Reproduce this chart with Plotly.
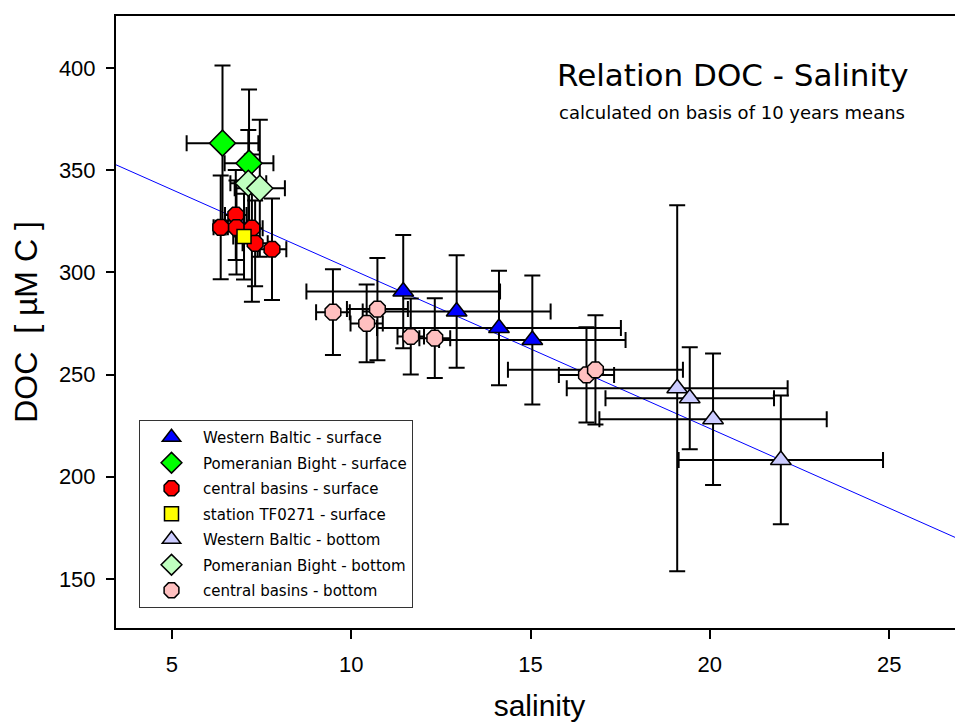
import numpy as np
import plotly.graph_objects as go

# ---- data (salinity, DOC [uM C], +/- errors) ----
wb_surf_sal = [11.45, 12.94, 14.12, 15.05]
wb_surf_doc = [290.6, 280.8, 272.8, 266.9]
wb_surf_sal_err = [2.70, 2.62, 3.40, 2.60]
wb_surf_doc_err = [27.7, 27.5, 28.0, 31.5]

pb_surf_sal = [6.41, 7.15]
pb_surf_doc = [363.2, 353.4]
pb_surf_sal_err = [1.00, 0.68]
pb_surf_doc_err = [38.0, 36.0]

cb_surf_sal = [6.78, 6.36, 6.80, 7.23, 7.32, 7.79]
cb_surf_doc = [328.0, 322.0, 321.9, 321.6, 314.2, 311.3]
cb_surf_sal_err = [0.30, 0.20, 0.30, 0.30, 0.35, 0.40]
cb_surf_doc_err = [22.0, 25.4, 23.0, 36.0, 21.0, 24.8]

tf_surf_sal = [7.01]
tf_surf_doc = [317.5]
tf_surf_sal_err = [0.30]
tf_surf_doc_err = [21.0]

wb_bot_sal = [19.09, 19.44, 20.09, 21.98]
wb_bot_doc = [243.3, 238.4, 228.1, 208.2]
wb_bot_sal_err = [3.08, 2.35, 3.17, 2.85]
wb_bot_doc_err = [89.5, 25.0, 32.2, 31.5]

pb_bot_sal = [7.13, 7.45]
pb_bot_doc = [343.6, 341.1]
pb_bot_sal_err = [0.50, 0.70]
pb_bot_doc_err = [26.0, 33.5]

cb_bot_sal = [9.49, 10.43, 10.73, 11.66, 12.33, 16.56, 16.81]
cb_bot_doc = [280.5, 275.0, 282.0, 268.6, 267.8, 249.8, 252.3]
cb_bot_sal_err = [0.47, 0.45, 0.85, 0.37, 0.43, 0.77, 2.44]
cb_bot_doc_err = [21.0, 19.0, 25.0, 18.6, 19.5, 23.3, 26.7]

# regression DOC = a + b * salinity
reg_intercept = 379.4
reg_slope = -7.79

x_range = [3.44, 27.06]
y_range = [126, 425.4]
x_ticks = [5, 10, 15, 20, 25]
y_ticks = [150, 200, 250, 300, 350, 400]

series = [
    ("Western Baltic - surface", wb_surf_sal, wb_surf_doc, wb_surf_sal_err, wb_surf_doc_err, "triangle-up", "#0000FF", 18),
    ("Pomeranian Bight - surface", pb_surf_sal, pb_surf_doc, pb_surf_sal_err, pb_surf_doc_err, "diamond", "#00FF00", 20),
    ("central basins - surface", cb_surf_sal, cb_surf_doc, cb_surf_sal_err, cb_surf_doc_err, "octagon", "#FF0000", 17),
    ("station TF0271 - surface", tf_surf_sal, tf_surf_doc, tf_surf_sal_err, tf_surf_doc_err, "square", "#FFFF00", 14),
    ("Western Baltic - bottom", wb_bot_sal, wb_bot_doc, wb_bot_sal_err, wb_bot_doc_err, "triangle-up", "#CCCCFF", 18),
    ("Pomeranian Bight - bottom", pb_bot_sal, pb_bot_doc, pb_bot_sal_err, pb_bot_doc_err, "diamond", "#C0FFC0", 20),
    ("central basins - bottom", cb_bot_sal, cb_bot_doc, cb_bot_sal_err, cb_bot_doc_err, "octagon", "#FFC0C0", 17),
]

fig = go.Figure()

# regression line
reg_x = np.array(x_range)
fig.add_trace(go.Scatter(
    x=reg_x, y=reg_intercept + reg_slope * reg_x, mode="lines",
    line=dict(color="#0000FF", width=1), showlegend=False, hoverinfo="skip"))

# error bars (below all markers)
for name, sx, sy, ex, ey, sym, col, size in series:
    fig.add_trace(go.Scatter(
        x=sx, y=sy, mode="markers",
        marker=dict(size=1, color="rgba(0,0,0,0)", line=dict(width=0)),
        error_x=dict(type="data", array=ex, color="black", thickness=2, width=8),
        error_y=dict(type="data", array=ey, color="black", thickness=2, width=8),
        showlegend=False, hoverinfo="skip"))

# markers
for i, (name, sx, sy, ex, ey, sym, col, size) in enumerate(series):
    fig.add_trace(go.Scatter(
        x=sx, y=sy, mode="markers", name=name, legendgroup=f"g{i}",
        marker=dict(symbol=sym, size=size, color=col, line=dict(color="black", width=1.5))))

# page body has an 8px margin: figure is drawn at (8, 8) in the window
W, H = 955, 714
ML, MT, MR, MB = 108, 8, 0, 94
PW, PH = W - ML - MR, H - MT - MB

def px_to_paper(x, y):
    return (x - ML) / PW, 1 - (y - MT) / PH

fig.update_layout(
    width=W, height=H,
    margin=dict(l=ML, r=MR, t=MT, b=MB, autoexpand=False),
    paper_bgcolor="white", plot_bgcolor="white",
    font=dict(family="Liberation Sans, Arial, sans-serif", color="black"),
    showlegend=True,
    legend=dict(
        x=px_to_paper(131, 0)[0], y=px_to_paper(0, 412)[1], xanchor="left", yanchor="top",
        bgcolor="white", bordercolor="#333333", borderwidth=1,
        font=dict(size=15, family="DejaVu Sans, sans-serif"),
        tracegroupgap=3, itemsizing="trace", itemwidth=53,
        entrywidth=215, entrywidthmode="pixels"),
)

tx, ty = px_to_paper(725, 67)
sx_, sy_ = px_to_paper(724, 104)
fig.add_annotation(text="Relation DOC - Salinity", x=tx, y=ty, xref="paper", yref="paper",
                   xanchor="center", yanchor="middle", showarrow=False,
                   font=dict(family="DejaVu Sans, sans-serif", size=31))
fig.add_annotation(text="calculated on basis of 10 years means", x=sx_, y=sy_, xref="paper", yref="paper",
                   xanchor="center", yanchor="middle", showarrow=False,
                   font=dict(family="DejaVu Sans, sans-serif", size=18))

fig.update_xaxes(
    range=x_range, tickvals=x_ticks, ticks="outside", ticklen=9, tickwidth=2,
    tickcolor="black", showline=True, linecolor="black", linewidth=2, mirror=True,
    showgrid=False, zeroline=False, tickfont=dict(size=22), ticklabelstandoff=7,
    title=dict(text="salinity", font=dict(size=30), standoff=22))
fig.update_yaxes(
    range=y_range, tickvals=y_ticks, ticks="outside", ticklen=8, tickwidth=2,
    tickcolor="black", showline=True, linecolor="black", linewidth=2, mirror=False,
    showgrid=False, zeroline=False, tickfont=dict(size=22), ticklabelstandoff=6,
    title=dict(text="DOC  [ µM C ]", font=dict(size=32), standoff=16))

fig.write_html("out.html")
